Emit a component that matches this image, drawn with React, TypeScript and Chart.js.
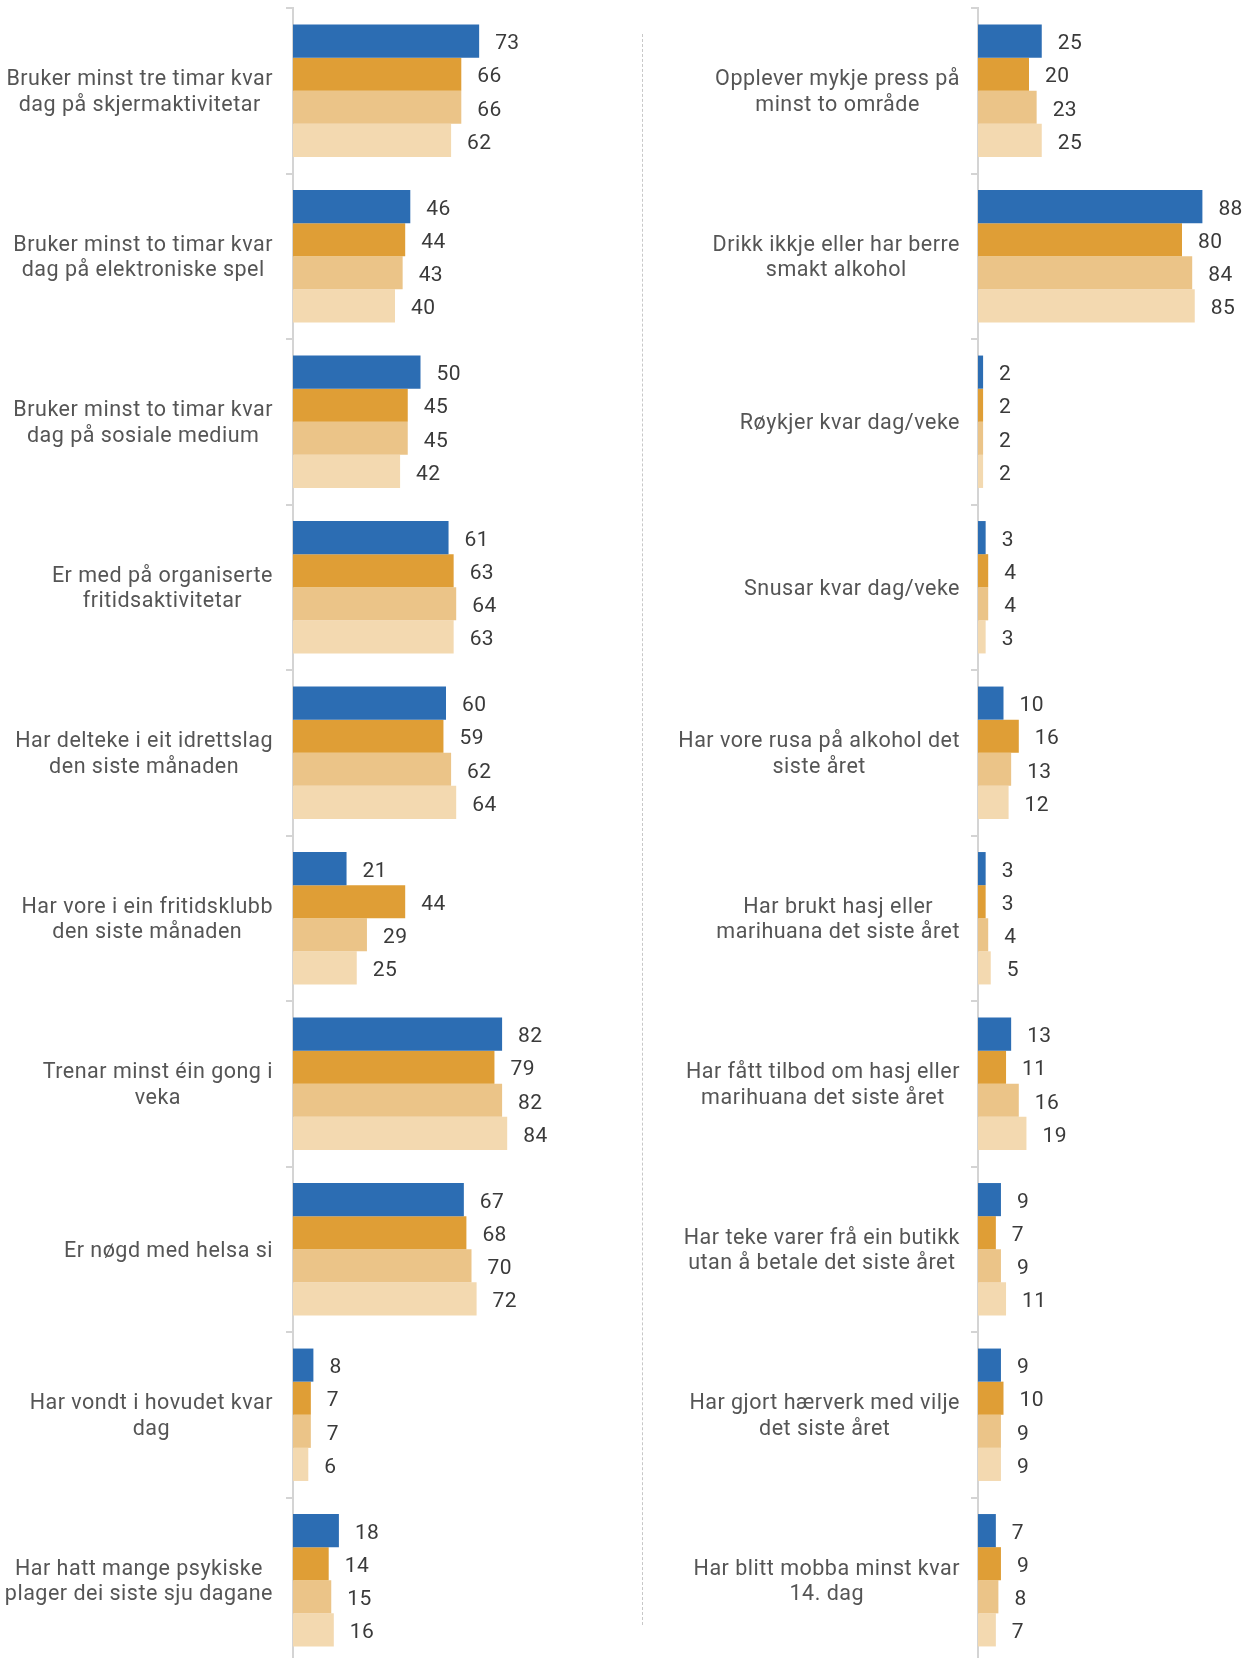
import React, { useEffect, useRef } from "react";
import { Chart, registerables } from "chart.js";

Chart.register(...registerables);

// ---------- data ----------
const SERIES_NAMES = ["Serie 1", "Serie 2", "Serie 3", "Serie 4"];
const SERIES_COLORS = ["#2c6db3", "#df9e36", "#ebc488", "#f3d9b0"];

const LEFT_LABELS = [
  ["Bruker minst tre timar kvar", "dag på skjermaktivitetar"],
  ["Bruker minst to timar kvar", "dag på elektroniske spel"],
  ["Bruker minst to timar kvar", "dag på sosiale medium"],
  ["Er med på organiserte", "fritidsaktivitetar"],
  ["Har delteke i eit idrettslag", "den siste månaden"],
  ["Har vore i ein fritidsklubb", "den siste månaden"],
  ["Trenar minst éin gong i", "veka"],
  ["Er nøgd med helsa si"],
  ["Har vondt i hovudet kvar", "dag"],
  ["Har hatt mange psykiske", "plager dei siste sju dagane"],
];
const LEFT_S1 = [73, 46, 50, 61, 60, 21, 82, 67, 8, 18];
const LEFT_S2 = [66, 44, 45, 63, 59, 44, 79, 68, 7, 14];
const LEFT_S3 = [66, 43, 45, 64, 62, 29, 82, 70, 7, 15];
const LEFT_S4 = [62, 40, 42, 63, 64, 25, 84, 72, 6, 16];

const RIGHT_LABELS = [
  ["Opplever mykje press på", "minst to område"],
  ["Drikk ikkje eller har berre", "smakt alkohol"],
  ["Røykjer kvar dag/veke"],
  ["Snusar kvar dag/veke"],
  ["Har vore rusa på alkohol det", "siste året"],
  ["Har brukt hasj eller", "marihuana det siste året"],
  ["Har fått tilbod om hasj eller", "marihuana det siste året"],
  ["Har teke varer frå ein butikk", "utan å betale det siste året"],
  ["Har gjort hærverk med vilje", "det siste året"],
  ["Har blitt mobba minst kvar", "14. dag"],
];
const RIGHT_S1 = [25, 88, 2, 3, 10, 3, 13, 9, 9, 7];
const RIGHT_S2 = [20, 80, 2, 4, 16, 3, 11, 7, 10, 9];
const RIGHT_S3 = [23, 84, 2, 4, 13, 4, 16, 9, 9, 8];
const RIGHT_S4 = [25, 85, 2, 3, 12, 5, 19, 11, 9, 7];

// ---------- style ----------
const FONT_FAMILY = "Roboto, 'Noto Sans', sans-serif";
const LABEL_SIZE = 21.5;
const LABEL_SPACING = "0.5px";
const VALUE_SIZE = 21;
const VALUE_SPACING = "0.4px";
const LABEL_LINE = 25.5;
const VALUE_GAP = 16;
const TEXT_DY = 2;
const AXIS_COLOR = "#d4d4d4";
const PX_PER_UNIT = 2.55;
const CANVAS_H = 1663;

function makeLabelPlugin(gap: number) {
  return {
    id: "blockLabels",
    afterDraw(chart: any) {
      const ctx = chart.ctx;
      const yScale = chart.scales.y;
      const labels = chart.data.labels as any[];
      ctx.save();
      ctx.font = `${LABEL_SIZE}px ${FONT_FAMILY}`;
      (ctx as any).letterSpacing = LABEL_SPACING;
      ctx.fillStyle = "#555555";
      ctx.textAlign = "center";
      ctx.textBaseline = "middle";
      const right = chart.chartArea.left - gap;
      labels.forEach((lab, i) => {
        const lines: string[] = Array.isArray(lab) ? lab : [lab];
        const w = Math.max(...lines.map((l) => ctx.measureText(l).width));
        const cx = right - w / 2;
        const cy = yScale.getPixelForValue(i) + TEXT_DY;
        lines.forEach((l, j) => {
          ctx.fillText(l, cx, cy + (j - (lines.length - 1) / 2) * LABEL_LINE);
        });
      });
      ctx.restore();
    },
  };
}

const valuePlugin = {
  id: "valueLabels",
  afterDatasetsDraw(chart: any) {
    const ctx = chart.ctx;
    ctx.save();
    ctx.font = `${VALUE_SIZE}px ${FONT_FAMILY}`;
    (ctx as any).letterSpacing = VALUE_SPACING;
    ctx.fillStyle = "#3a3a3a";
    ctx.textAlign = "left";
    ctx.textBaseline = "middle";
    chart.data.datasets.forEach((ds: any, di: number) => {
      const meta = chart.getDatasetMeta(di);
      meta.data.forEach((bar: any, i: number) => {
        ctx.fillText(String(ds.data[i]), bar.x + VALUE_GAP, bar.y + TEXT_DY + 1);
      });
    });
    ctx.restore();
  },
};

function makeConfig(
  labels: string[][],
  series: number[][],
  axisWidth: number,
  padRight: number,
  labelGap: number
) {
  return {
    type: "bar" as const,
    data: {
      labels,
      datasets: series.map((d, k) => ({
        label: SERIES_NAMES[k],
        data: d,
        backgroundColor: SERIES_COLORS[k],
        borderWidth: 0,
        categoryPercentage: 0.8,
        barPercentage: 1.0,
      })),
    },
    options: {
      indexAxis: "y" as const,
      responsive: false,
      animation: false as const,
      devicePixelRatio: 1,
      layout: { padding: { top: 8, right: padRight, bottom: 0, left: 0 } },
      plugins: { legend: { display: false }, tooltip: { enabled: false } },
      scales: {
        x: { display: false, min: 0, max: 100 },
        y: {
          type: "category" as const,
          offset: true,
          grid: {
            display: true,
            offset: true,
            drawOnChartArea: false,
            drawTicks: true,
            tickLength: 7,
            color: AXIS_COLOR,
            lineWidth: 2,
          },
          border: { display: true, color: AXIS_COLOR, width: 2 },
          ticks: { display: false },
          afterFit: (s: any) => {
            s.width = axisWidth;
          },
        },
      },
    },
    plugins: [makeLabelPlugin(labelGap), valuePlugin],
  };
}

function Panel(props: {
  left: number;
  width: number;
  axisWidth: number;
  labelGap: number;
  labels: string[][];
  series: number[][];
}) {
  const ref = useRef<HTMLCanvasElement | null>(null);
  useEffect(() => {
    if (!ref.current) return;
    const padRight = props.width - props.axisWidth - 100 * PX_PER_UNIT;
    const chart = new Chart(
      ref.current,
      makeConfig(props.labels, props.series, props.axisWidth, padRight, props.labelGap) as any
    );
    return () => chart.destroy();
  }, []);
  return (
    <canvas
      ref={ref}
      width={props.width}
      height={CANVAS_H}
      style={{
        position: "absolute",
        left: props.left,
        top: 0,
        width: props.width,
        height: CANVAS_H,
      }}
    />
  );
}

export default function App() {
  return (
    <div
      style={{
        position: "absolute",
        left: 0,
        top: 0,
        width: 1257,
        height: 1658,
        overflow: "hidden",
        background: "#ffffff",
      }}
    >
      <Panel
        left={0}
        width={640}
        axisWidth={293}
        labelGap={20}
        labels={LEFT_LABELS}
        series={[LEFT_S1, LEFT_S2, LEFT_S3, LEFT_S4]}
      />
      <Panel
        left={640}
        width={617}
        axisWidth={338}
        labelGap={18}
        labels={RIGHT_LABELS}
        series={[RIGHT_S1, RIGHT_S2, RIGHT_S3, RIGHT_S4]}
      />
      <div
        style={{
          position: "absolute",
          left: 642,
          top: 34,
          height: 1591,
          width: 0,
          borderLeft: "1px dashed #c8c8c8",
        }}
      />
    </div>
  );
}
